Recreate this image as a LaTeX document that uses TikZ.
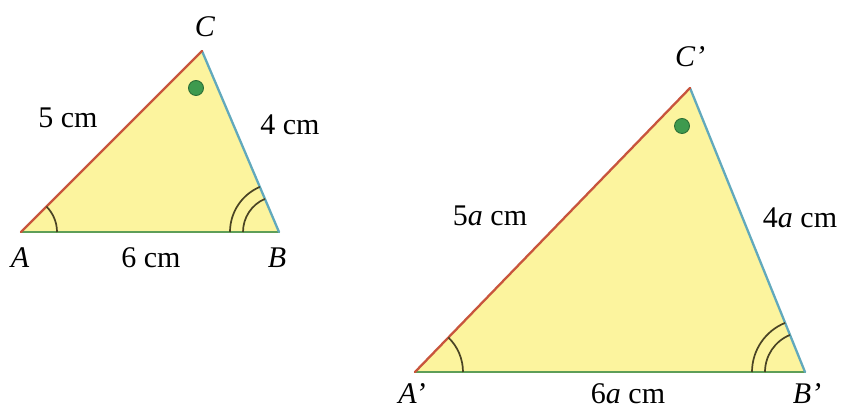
\documentclass[tikz,border=0pt]{standalone}
\usepackage{fontspec}
\setmainfont{Liberation Serif}
\definecolor{fillY}{HTML}{FCF49E}
\definecolor{sideR}{HTML}{C8553D}
\definecolor{sideB}{HTML}{62A9BC}
\definecolor{sideG}{HTML}{5E9E58}
\definecolor{arcC}{HTML}{4A4424}
\definecolor{dotG}{HTML}{3E9A4E}
\definecolor{dotE}{HTML}{2B6E36}
\begin{document}
\begin{tikzpicture}[x=1pt,y=1pt,
  lbl/.style={font=\fontsize{30}{34}\selectfont, inner sep=0pt},
  side/.style={line width=2.3pt, line cap=round},
  angarc/.style={draw=arcC, line width=1.7pt},
  dotmark/.style={circle, fill=dotG, draw=dotE, line width=0.9pt, minimum size=15pt, inner sep=0pt}]
\useasboundingbox (0,0) rectangle (850,409);
% small triangle
\coordinate (A) at (21,177);
\coordinate (B) at (279,177);
\coordinate (C) at (202,358);
\fill[fillY] (A) -- (B) -- (C) -- cycle;
\draw[side, sideG] (A) -- (B);
\draw[side, sideB] (B) -- (C);
\draw[side, sideR] (A) -- (C);
\draw[angarc] ([shift={(0:36)}]A) arc (0:45:36);
\draw[angarc] ([shift={(180:36)}]B) arc (180:113:36);
\draw[angarc] ([shift={(180:49)}]B) arc (180:113:49);
\node[dotmark] (d1) at (196,321) {};
\node[lbl] (lA) at (20,151) {\textit{A}};
\node[lbl] (lB) at (277,151) {\textit{B}};
\node[lbl] (lC) at (205,382) {\textit{C}};
\node[lbl] (s1) at (68,291) {5 cm};
\node[lbl] (s2) at (290,284) {4 cm};
\node[lbl] (s3) at (151,151) {6 cm};
% big triangle
\coordinate (A2) at (415,37);
\coordinate (B2) at (805,37);
\coordinate (C2) at (690,321);
\fill[fillY] (A2) -- (B2) -- (C2) -- cycle;
\draw[side, sideG] (A2) -- (B2);
\draw[side, sideB] (B2) -- (C2);
\draw[side, sideR] (A2) -- (C2);
\draw[angarc] ([shift={(0:48)}]A2) arc (0:46:48);
\draw[angarc] ([shift={(180:40)}]B2) arc (180:112:40);
\draw[angarc] ([shift={(180:53)}]B2) arc (180:112:53);
\node[dotmark] (d2) at (682,283) {};
\node[lbl] (lA2) at (412,15) {\textit{A'}};
\node[lbl] (lB2) at (807,15) {\textit{B'}};
\node[lbl] (lC2) at (690,352) {\textit{C'}};
\node[lbl] (t1) at (490,193) {5\textit{a} cm};
\node[lbl] (t2) at (800,191) {4\textit{a} cm};
\node[lbl] (t3) at (628,15) {6\textit{a} cm};
\end{tikzpicture}
\end{document}
